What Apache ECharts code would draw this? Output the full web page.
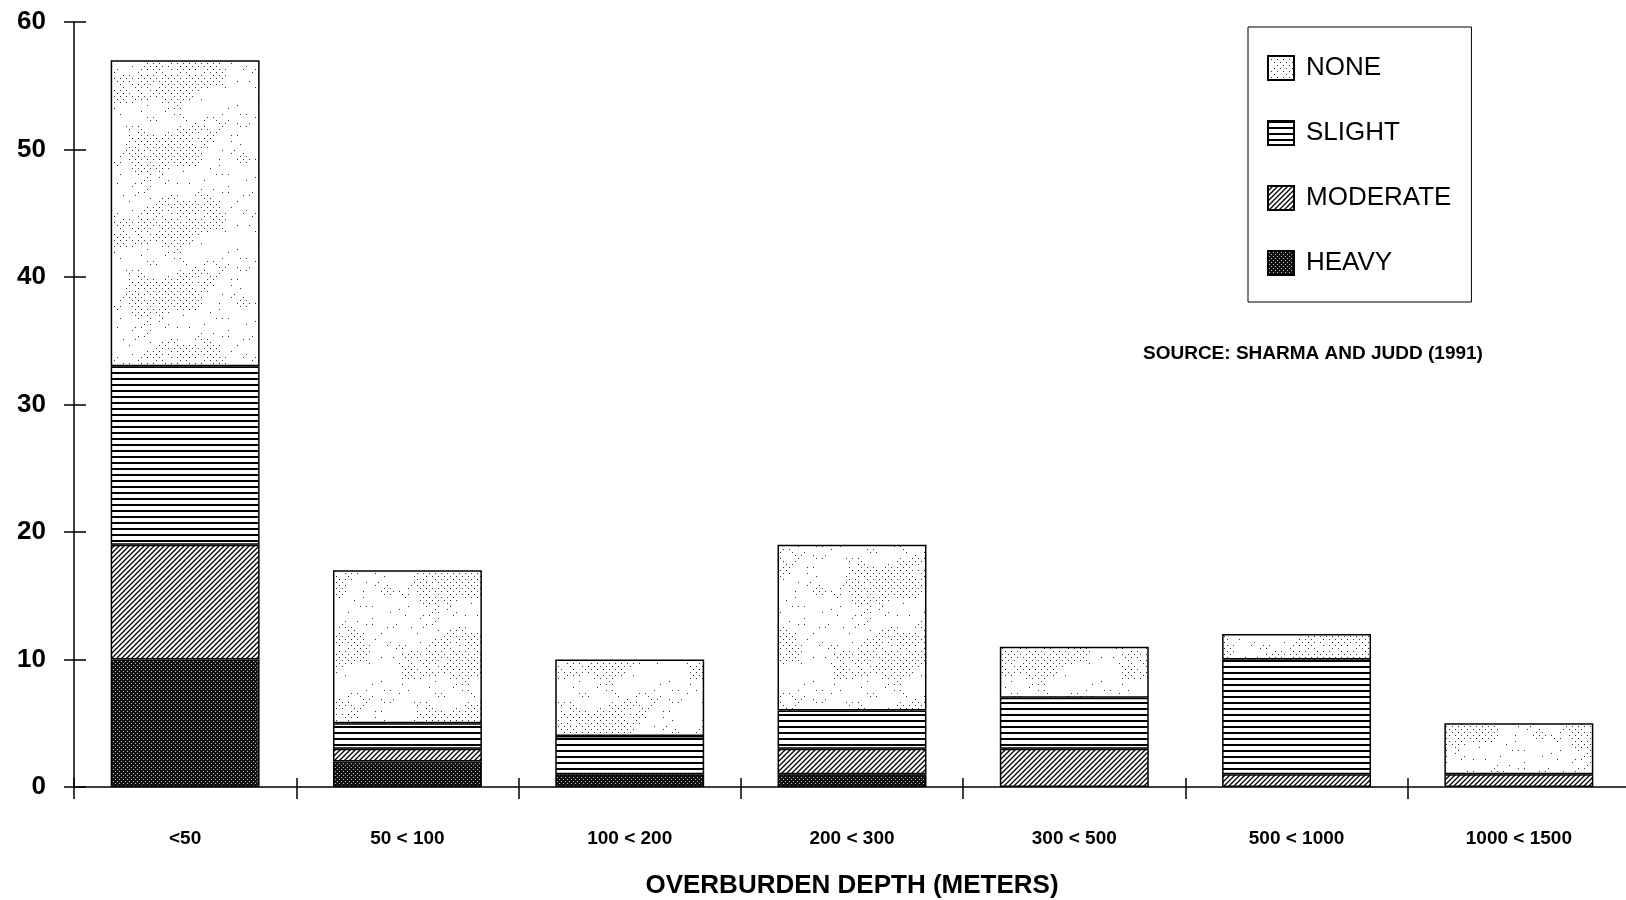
<!DOCTYPE html>
<html>
<head>
<meta charset="utf-8">
<title>Overburden depth</title>
<script src="https://cdn.jsdelivr.net/npm/echarts@6/dist/echarts.min.js"></script>
<style>
  html, body { margin: 0; padding: 0; background: #fff; }
  #chart { width: 1626px; height: 900px; }
</style>
</head>
<body>
<div id="chart"></div>
<script>
// Overburden depth classes (meters)
const categories = ['<50', '50 < 100', '100 < 200', '200 < 300', '300 < 500', '500 < 1000', '1000 < 1500'];
// Counts per damage class, stacked bottom to top: HEAVY, MODERATE, SLIGHT, NONE
const heavy    = [10, 2, 1, 1, 0, 0, 0];
const moderate = [9, 1, 0, 2, 3, 1, 1];
const slight   = [14, 2, 3, 3, 4, 9, 0];
const none     = [24, 12, 6, 13, 4, 2, 4];
const yTicks = { min: 0, max: 60, interval: 10 };
const legendOrder = ['NONE', 'SLIGHT', 'MODERATE', 'HEAVY'];

const FONT = "'Liberation Sans', Arial, Helvetica, sans-serif";

// Hatch / stipple fills
function tile(w, h, draw) {
  const c = document.createElement('canvas');
  c.width = w; c.height = h;
  const g = c.getContext('2d');
  draw(g, w, h);
  return { image: c, repeat: 'repeat' };
}
// integer hash used to scatter the light stipple dots
function hash(x, y) {
  let h = Math.imul(x, 374761393) + Math.imul(y, 668265263);
  h = Math.imul(h ^ (h >>> 13), 1274126177);
  return ((h ^ (h >>> 16)) >>> 0) % 100;
}
// Mottled stipple: a 3px dot lattice, dense in wavy patches and scattered elsewhere
const fillNone = tile(144, 144, (g, w, h) => {
  g.fillStyle = '#fff'; g.fillRect(0, 0, w, h);
  g.fillStyle = '#333';
  const TAU = Math.PI * 2;
  for (let x = 0; x < w; x += 3) {
    for (let y = 0; y < h; y += 3) {
      if (((x / 3) + (y / 3)) % 2 !== 0) continue;
      const u = x / w, t = y / h;
      const v = Math.sin(TAU * u + 0.5) + Math.sin(TAU * 2 * t + 1)
              + 0.8 * Math.sin(TAU * (u + 2 * t))
              + 0.6 * Math.sin(TAU * (3 * u - t) + 2)
              + 0.5 * Math.sin(TAU * (2 * u + 3 * t) + 4);
      const k = hash(x, y);
      if ((v > 0.1 && k < 85) || k < 14) g.fillRect(x, y, 1, 1);
    }
  }
});
const fillSlight = tile(6, 6, (g) => {
  g.fillStyle = '#fff'; g.fillRect(0, 0, 6, 6);
  g.fillStyle = '#000'; g.fillRect(0, 0, 6, 2);
});
const fillModerate = tile(5, 5, (g) => {
  g.fillStyle = '#fff'; g.fillRect(0, 0, 5, 5);
  g.strokeStyle = '#000'; g.lineWidth = 1.3;
  g.beginPath();
  g.moveTo(-1, 6); g.lineTo(6, -1);
  g.moveTo(-1, 1); g.lineTo(1, -1);
  g.moveTo(4, 6); g.lineTo(6, 4);
  g.stroke();
});
const fillHeavy = tile(4, 4, (g) => {
  g.fillStyle = '#111'; g.fillRect(0, 0, 4, 4);
  g.fillStyle = '#bbb';
  g.fillRect(1, 1, 1, 1); g.fillRect(3, 3, 1, 1);
});

function stackSeries(name, data, fill) {
  return {
    name: name,
    type: 'bar',
    stack: 'total',
    barWidth: '67%',
    data: data.map(v => (v === 0 ? null : v)),
    itemStyle: { color: fill, borderColor: '#000', borderWidth: 1.5 },
    emphasis: { disabled: true }
  };
}

const chart = echarts.init(document.getElementById('chart'), null, { renderer: 'canvas' });
chart.setOption({
  animation: false,
  backgroundColor: '#fff',
  textStyle: { fontFamily: FONT },
  grid: { left: 74, top: 22, width: 1556, height: 765, containLabel: false, outerBoundsMode: 'none' },
  legend: {
    data: legendOrder,
    orient: 'vertical',
    left: 1248,
    top: 27,
    padding: [28, 20, 26, 19],
    itemWidth: 26,
    itemHeight: 24,
    itemGap: 39,
    borderColor: '#000',
    borderWidth: 1,
    icon: 'rect',
    selectedMode: false,
    textStyle: { fontSize: 26, color: '#000', fontFamily: FONT, padding: [0, 0, 0, 7] }
  },
  graphic: [{
    type: 'text',
    left: 1143,
    top: 344,
    style: { text: 'SOURCE: SHARMA AND JUDD (1991)', font: 'bold 19px ' + FONT, fill: '#000' }
  }],
  xAxis: [{
    type: 'category',
    data: categories,
    boundaryGap: true,
    axisLine: { lineStyle: { color: '#000', width: 1.5 } },
    axisTick: { show: true, length: 12, lineStyle: { color: '#000', width: 1.5 } },
    axisLabel: { margin: 42, fontSize: 19, fontWeight: 'bold', color: '#000', fontFamily: FONT },
    name: 'OVERBURDEN DEPTH (METERS)',
    nameLocation: 'middle',
    nameGap: 86,
    nameTextStyle: { fontSize: 26, fontWeight: 'bold', color: '#000', fontFamily: FONT }
  }, {
    type: 'category',
    data: categories,
    position: 'bottom',
    boundaryGap: true,
    axisLine: { show: false },
    axisTick: { show: true, inside: true, length: 9, lineStyle: { color: '#000', width: 1.5 } },
    axisLabel: { show: false }
  }],
  yAxis: [{
    type: 'value',
    min: yTicks.min,
    max: yTicks.max,
    interval: yTicks.interval,
    splitLine: { show: false },
    axisLine: { show: true, lineStyle: { color: '#000', width: 1.5 } },
    axisTick: { show: true, length: 10, lineStyle: { color: '#000', width: 1.5 } },
    axisLabel: { margin: 28, fontSize: 26, fontWeight: 'bold', color: '#000', fontFamily: FONT }
  }, {
    type: 'value',
    position: 'left',
    min: yTicks.min,
    max: yTicks.max,
    interval: yTicks.interval,
    splitLine: { show: false },
    axisLine: { show: false },
    axisTick: { show: true, inside: true, length: 12, lineStyle: { color: '#000', width: 1.5 } },
    axisLabel: { show: false }
  }],
  series: [
    stackSeries('HEAVY', heavy, fillHeavy),
    stackSeries('MODERATE', moderate, fillModerate),
    stackSeries('SLIGHT', slight, fillSlight),
    stackSeries('NONE', none, fillNone)
  ]
});
</script>
</body>
</html>
